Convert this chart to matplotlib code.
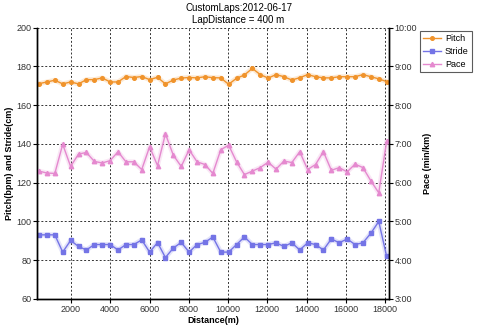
import matplotlib
matplotlib.use("Agg")
import matplotlib.pyplot as plt
from matplotlib.ticker import FuncFormatter, MultipleLocator

plt.rcParams["font.family"] = ["Liberation Sans", "DejaVu Sans"]

# lap end distances (m)
distance = [370, 773, 1175, 1578, 1980, 2383, 2785, 3188, 3590, 3993,
            4395, 4798, 5200, 5603, 6005, 6408, 6810, 7213, 7615, 8018,
            8420, 8823, 9225, 9628, 10030, 10433, 10835, 11238, 11640, 12043,
            12445, 12848, 13250, 13653, 14055, 14458, 14860, 15263, 15665, 16068,
            16470, 16873, 17275, 17678, 18080]

# steps per minute
pitch = [171.1, 172.0, 172.9, 171.0, 172.0, 171.0, 173.2, 173.2, 174.1, 172.0,
         172.0, 174.8, 174.3, 174.8, 173.2, 174.4, 171.0, 173.0, 174.0, 174.3,
         174.1, 174.7, 174.2, 174.1, 170.8, 173.9, 175.6, 179.0, 175.8, 174.0,
         175.8, 174.7, 173.0, 174.2, 175.8, 174.7, 174.1, 174.1, 174.7, 174.7,
         174.7, 175.8, 174.7, 173.6, 172.2]

# stride length (cm)
stride = [93.1, 93.1, 93.1, 84.2, 90.2, 87.1, 85.3, 88.1, 88.1, 88.1,
          85.3, 88.1, 88.1, 90.5, 84.2, 89.1, 81.4, 86.3, 89.2, 84.2,
          88.1, 89.2, 92.0, 84.2, 84.2, 88.1, 92.0, 88.1, 88.1, 88.1,
          89.0, 87.1, 89.0, 85.3, 89.0, 88.1, 85.3, 91.0, 89.0, 91.0,
          88.1, 89.0, 93.9, 100.0, 82.0]

# pace (min/km)
pace = [6.30, 6.25, 6.24, 6.99, 6.42, 6.74, 6.78, 6.55, 6.51, 6.57,
        6.80, 6.54, 6.54, 6.34, 6.93, 6.44, 7.26, 6.71, 6.42, 6.85,
        6.54, 6.47, 6.24, 6.85, 6.97, 6.54, 6.21, 6.30, 6.39, 6.53,
        6.35, 6.56, 6.52, 6.80, 6.34, 6.47, 6.80, 6.32, 6.39, 6.28,
        6.48, 6.39, 6.05, 5.74, 7.07]

c_pitch = "#f0932b"
c_stride = "#7474e6"
c_pace = "#e589cf"

fig = plt.figure(figsize=(4.8, 3.29), dpi=100)
ax = fig.add_axes([0.0777, 0.0912, 0.7327, 0.8246])
ax2 = ax.twinx()

# soft halo under each line
ax.plot(distance, pitch, color=c_pitch, lw=3.5, alpha=0.2)
ax.plot(distance, stride, color=c_stride, lw=3.5, alpha=0.2)
ax2.plot(distance, pace, color=c_pace, lw=3.5, alpha=0.2)

l1, = ax.plot(distance, pitch, color=c_pitch, lw=1, marker="o", ms=2.6, label="Pitch")
l2, = ax.plot(distance, stride, color=c_stride, lw=1, marker="s", ms=3.2, label="Stride")
l3, = ax2.plot(distance, pace, color=c_pace, lw=1, marker="^", ms=3.2, label="Pace")

ax.set_xlim(283, 18200)
ax.set_ylim(60, 200)
ax2.set_ylim(3, 10)
ax.xaxis.set_major_locator(MultipleLocator(2000))
ax.yaxis.set_major_locator(MultipleLocator(20))
ax2.yaxis.set_major_locator(MultipleLocator(1))
ax2.yaxis.set_major_formatter(FuncFormatter(lambda v, p: "%d:%02d" % (int(v), round((v - int(v)) * 60))))

ax.grid(True, color="#333333", ls=(0, (2, 2)), lw=0.7)
for a in (ax, ax2):
    a.spines["top"].set_visible(False)
    a.tick_params(labelsize=6.5, labelcolor="#333333", length=3, width=0.8, pad=1)
    for s in a.spines.values():
        s.set_linewidth(1)
ax.set_xticks([2000, 4000, 6000, 8000, 10000, 12000, 14000, 16000, 18000])

ax.set_xlabel("Distance(m)", fontsize=6.5, fontweight="bold", labelpad=2)
ax.set_ylabel("Pitch(bpm) and Stride(cm)", fontsize=6.5, fontweight="bold", labelpad=2)
ax2.set_ylabel("Pace (min/km)", fontsize=6.5, fontweight="bold", labelpad=4)

fig.text(0.497, 0.975, "CustomLaps:2012-06-17", ha="center", va="center", fontsize=7)
fig.text(0.497, 0.94, "LapDistance = 400 m", ha="center", va="center", fontsize=7)

leg = fig.legend([l1, l2, l3], ["Pitch", "Stride", "Pace"], loc="upper left",
                 bbox_to_anchor=(0.865, 0.92), fontsize=6.5, frameon=True,
                 fancybox=False, edgecolor="#333333", handlelength=2,
                 borderpad=0.4, labelspacing=0.4, handletextpad=0.4)
leg.get_frame().set_linewidth(0.8)

fig.savefig("out.png", dpi=100)
